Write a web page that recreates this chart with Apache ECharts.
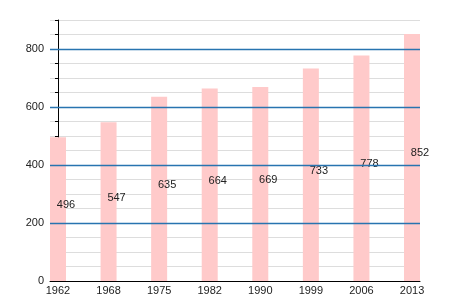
<!DOCTYPE html>
<html><head><meta charset="utf-8">
<script src="https://cdn.jsdelivr.net/npm/echarts@6/dist/echarts.min.js"></script>
<style>html,body{margin:0;padding:0;background:#fff}#c{width:450px;height:300px}</style>
</head><body><div id="c"></div>
<script>
const years = ['1962','1968','1975','1982','1990','1999','2006','2013'];
const values = [496, 547, 635, 664, 669, 733, 778, 852];
const yTicks = [0, 200, 400, 600, 800];

const chart = echarts.init(document.getElementById('c'), null, {renderer:'canvas'});
const pad = 0.158;
chart.setOption({
  animation: false,
  grid: {left: 50, right: 30, top: 20, bottom: 19, containLabel: false},
  xAxis: {
    type: 'value', min: -pad, max: years.length - 1 + pad,
    axisLine: {show: true, onZero: false, lineStyle: {color: '#000', width: 1}},
    axisTick: {show: false},
    splitLine: {show: false},
    axisLabel: {
      customValues: years.map((_, i) => i),
      formatter: v => years[Math.round(v)] || '',
      color: '#222', fontSize: 11, fontFamily: 'Liberation Sans, Arial', margin: 4
    }
  },
  yAxis: {
    type: 'value', min: 0, max: 900, interval: 50,
    axisLine: {show: true, lineStyle: {color: '#000', width: 1}},
    axisTick: {show: true, length: 3, lineStyle: {color: '#000'}},
    splitLine: {show: true, lineStyle: {color: '#dddddd', width: 1}},
    axisLabel: {
      formatter: v => (yTicks.indexOf(v) >= 0 ? String(v) : ''),
      color: '#222', fontSize: 11, fontFamily: 'Liberation Sans, Arial', margin: 6
    }
  },
  series: [{
    type: 'line',
    data: [],
    silent: true,
    markLine: {
      symbol: 'none', silent: true, label: {show: false},
      lineStyle: {color: '#2874b0', width: 1.4, type: 'solid', opacity: 1},
      data: yTicks.filter(v => v > 0).map(v => ({yAxis: v}))
    }
  }, {
    type: 'bar',
    data: values.map((v, i) => [i, v]),
    barWidth: 16,
    z: 3,
    itemStyle: {color: '#ffcaca'},
    label: {
      show: true, position: 'inside', offset: [8, -4],
      formatter: p => String(p.value[1]),
      color: '#222', fontSize: 11, fontFamily: 'Liberation Sans, Arial'
    }
  }]
});
</script></body></html>
